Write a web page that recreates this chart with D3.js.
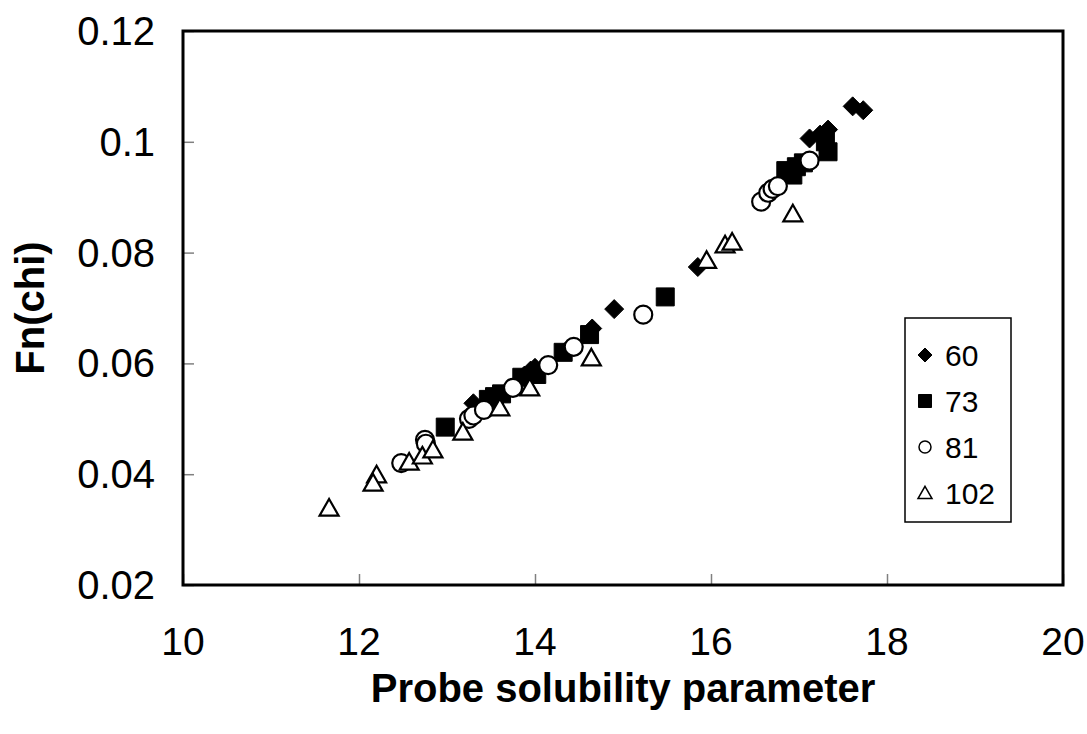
<!DOCTYPE html>
<html>
    <head>
        <script src="https://d3js.org/d3.v7.min.js"></script>
        <style>
            body {
                margin: 0;
                background: #fff;
            }
            text {
                font-family: 'Liberation Sans', Arial, sans-serif;
                fill: #000;
            }
        </style>
    </head>
    <body>
        <script>
            // series: probe solubility parameter vs Fn(chi)
            const seriesNames = ['60', '73', '81', '102'];
            const seriesShapes = ['diamond', 'square', 'circle', 'triangle'];

            const x60 = [13.30, 13.88, 13.95, 14.00, 14.35, 14.65, 14.90, 15.85, 17.12, 17.24, 17.33, 17.61, 17.73];
            const y60 = [0.0528, 0.0578, 0.0587, 0.0592, 0.0622, 0.0663, 0.0698, 0.0774, 0.1006, 0.1013, 0.1022, 0.1064, 0.1057];

            const x73 = [12.98, 13.47, 13.54, 13.62, 13.85, 14.02, 14.32, 14.62, 15.48, 16.85, 16.93, 16.97, 17.05, 17.33, 17.30];
            const y73 = [0.0485, 0.0535, 0.0540, 0.0545, 0.0575, 0.0580, 0.0620, 0.0652, 0.0720, 0.0948, 0.0940, 0.0955, 0.0962, 0.0982, 0.1000];

            const x81 = [12.48, 12.75, 12.76, 13.25, 13.30, 13.42, 13.75, 14.15, 14.44, 15.23, 16.57, 16.65, 16.70, 16.76, 17.12];
            const y81 = [0.0420, 0.0462, 0.0455, 0.0500, 0.0506, 0.0516, 0.0556, 0.0597, 0.0630, 0.0688, 0.0892, 0.0908, 0.0915, 0.0920, 0.0966];

            const x102 = [11.66, 12.20, 12.16, 12.57, 12.72, 12.84, 13.18, 13.60, 13.94, 14.64, 15.95, 16.16, 16.24, 16.93];
            const y102 = [0.0339, 0.0399, 0.0384, 0.0422, 0.0433, 0.0444, 0.0476, 0.0520, 0.0556, 0.0610, 0.0786, 0.0814, 0.0819, 0.0870];

            const xTicks = [10, 12, 14, 16, 18, 20];
            const yTicks = [0.02, 0.04, 0.06, 0.08, 0.1, 0.12];

            const seriesX = [x60, x73, x81, x102];
            const seriesY = [y60, y73, y81, y102];

            const width = 1087;
            const height = 734;
            const margin = { left: 183, right: 24, top: 31, bottom: 149 };

            const svg = d3.select('body').append('svg').attr('width', width).attr('height', height);

            const x = d3.scaleLinear().domain([10, 20]).range([margin.left, width - margin.right]);
            const y = d3.scaleLinear().domain([0.02, 0.12]).range([height - margin.bottom, margin.top]);

            // ticks point inward
            const tickLen = 11;
            const xAxis = svg
                .append('g')
                .attr('transform', `translate(0,${height - margin.bottom})`)
                .call(d3.axisTop(x).tickValues(xTicks).tickSize(tickLen).tickFormat(''));
            const yAxis = svg
                .append('g')
                .attr('transform', `translate(${margin.left},0)`)
                .call(d3.axisRight(y).tickValues(yTicks).tickSize(tickLen).tickFormat(''));
            [xAxis, yAxis].forEach((g) => {
                g.select('.domain').remove();
                g.selectAll('line').attr('stroke', '#808080').attr('stroke-width', 1.5);
            });

            svg.append('g')
                .selectAll('text')
                .data(xTicks)
                .join('text')
                .attr('x', (d) => x(d))
                .attr('y', height - margin.bottom + 70)
                .attr('text-anchor', 'middle')
                .style('font-size', '39px')
                .text((d) => d);

            svg.append('g')
                .selectAll('text')
                .data(yTicks)
                .join('text')
                .attr('x', margin.left - 28)
                .attr('y', (d) => y(d) + 14)
                .attr('text-anchor', 'end')
                .style('font-size', '40px')
                .text((d) => d);

            // plot frame
            svg.append('rect')
                .attr('x', x(10))
                .attr('y', y(0.12))
                .attr('width', x(20) - x(10))
                .attr('height', y(0.02) - y(0.12))
                .attr('fill', 'none')
                .attr('stroke', '#000')
                .attr('stroke-width', 3);

            function shapePath(shape, s) {
                const h = s / 2;
                if (shape === 'diamond') return `M0,${-h}L${h},0L0,${h}L${-h},0Z`;
                if (shape === 'square') return `M${-h},${-h}H${h}V${h}H${-h}Z`;
                if (shape === 'triangle') return `M0,${-h * 0.95}L${h},${h * 0.8}L${-h},${h * 0.8}Z`;
                return d3.arc()({ innerRadius: 0, outerRadius: h, startAngle: 0, endAngle: 2 * Math.PI });
            }

            function styleMark(sel, shape, sw) {
                if (shape === 'diamond' || shape === 'square') {
                    sel.attr('fill', '#000').attr('stroke', '#000').attr('stroke-width', 1);
                } else {
                    sel.attr('fill', '#fff').attr('stroke', '#000').attr('stroke-width', sw);
                }
            }

            const markSize = { diamond: 19, square: 18, circle: 18, triangle: 19 };

            seriesNames.forEach((name, i) => {
                const shape = seriesShapes[i];
                const pts = seriesX[i].map((v, j) => ({ x: v, y: seriesY[i][j] }));
                const marks = svg
                    .append('g')
                    .selectAll('path')
                    .data(pts)
                    .join('path')
                    .attr('transform', (d) => `translate(${x(d.x)},${y(d.y)})`)
                    .attr('d', shapePath(shape, markSize[shape]));
                styleMark(marks, shape, 2.2);
            });

            // legend
            const legend = svg.append('g').attr('transform', 'translate(905,318)');
            legend.append('rect').attr('width', 106).attr('height', 204).attr('fill', '#fff').attr('stroke', '#000').attr('stroke-width', 1.5);
            const legendSize = { diamond: 14, square: 13, circle: 12, triangle: 14 };
            seriesNames.forEach((name, i) => {
                const shape = seriesShapes[i];
                const row = legend.append('g').attr('transform', `translate(20,${37 + i * 46})`);
                const m = row.append('path').attr('d', shapePath(shape, legendSize[shape]));
                styleMark(m, shape, 1.5);
                row.append('text').attr('x', 20).attr('y', 11).style('font-size', '30px').text(name);
            });

            // axis titles
            svg.append('text')
                .attr('x', (x(10) + x(20)) / 2)
                .attr('y', 702)
                .attr('text-anchor', 'middle')
                .style('font-size', '40px')
                .style('font-weight', 'bold')
                .text('Probe solubility parameter');

            svg.append('text')
                .attr('transform', `translate(44,${(y(0.02) + y(0.12)) / 2}) rotate(-90)`)
                .attr('text-anchor', 'middle')
                .style('font-size', '40px')
                .style('font-weight', 'bold')
                .text('Fn(chi)');
        </script>
    </body>
</html>
